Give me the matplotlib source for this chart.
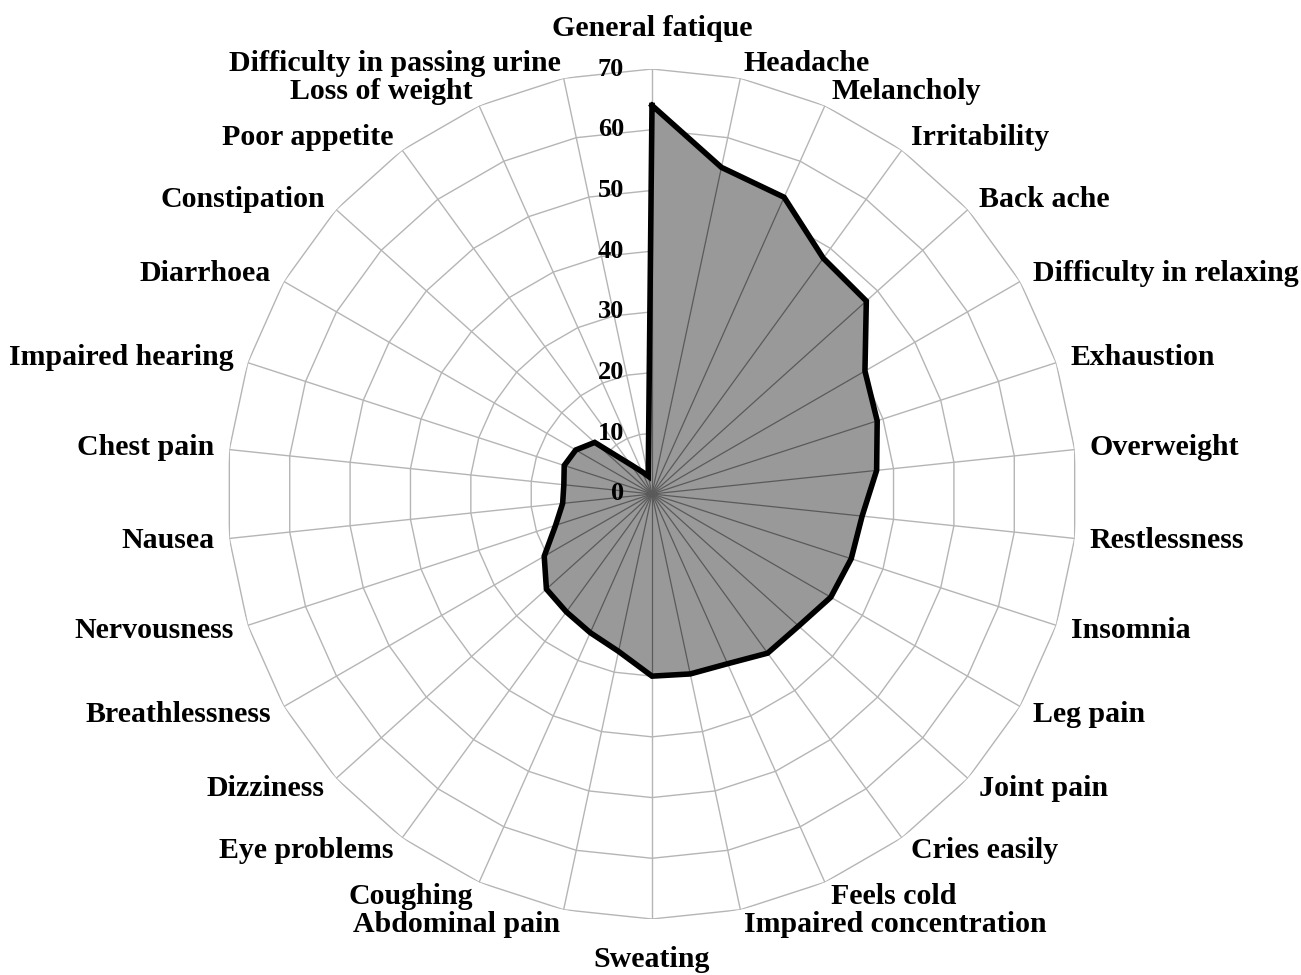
import numpy as np
import matplotlib
matplotlib.use("Agg")
import matplotlib.pyplot as plt
from matplotlib.transforms import offset_copy

symptoms = ["General fatique", "Headache", "Melancholy", "Irritability", "Back ache",
            "Difficulty in relaxing", "Exhaustion", "Overweight", "Restlessness", "Insomnia",
            "Leg pain", "Joint pain", "Cries easily", "Feels cold", "Impaired concentration",
            "Sweating", "Abdominal pain", "Coughing", "Eye problems", "Dizziness",
            "Breathlessness", "Nervousness", "Nausea", "Chest pain", "Impaired hearing",
            "Diarrhoea", "Constipation", "Poor appetite", "Loss of weight",
            "Difficulty in passing urine"]
values = [64, 55, 53.5, 48, 47.5,
          40.5, 39, 37.2, 34.8, 34.5,
          34, 32.5, 32.4, 30.6, 30.3,
          30, 26.5, 25, 24, 23.4,
          20.5, 16.7, 14.8, 14.6, 15.2,
          14.5, 12.7, 6, 4, 3]
levels = [0, 10, 20, 30, 40, 50, 60, 70]

plt.rcParams['font.family'] = ['Liberation Serif', 'DejaVu Serif']
plt.rcParams['font.weight'] = 'bold'

n = len(symptoms)
angles = np.linspace(0, 2 * np.pi, n, endpoint=False)
ang_c = np.append(angles, angles[0])
val_c = np.append(values, values[0])

fig = plt.figure(figsize=(13.01, 9.75), dpi=100)
ax = fig.add_axes([227 / 1301, 56 / 975, 850 / 1301, 850 / 975], projection='polar')
ax.set_theta_zero_location('N')
ax.set_theta_direction(-1)
ax.set_ylim(0, 70)
ax.set_axis_off()

# grille polygonale + rayons
for lv in levels[1:]:
    ax.plot(ang_c, [lv] * (n + 1), color='#b5b5b5', lw=1.0, zorder=1)
for a in angles:
    ax.plot([a, a], [0, 70], color='#b5b5b5', lw=1.0, zorder=1)

ax.fill(ang_c, val_c, color='#999999', zorder=2)
for a, v in zip(angles, values):
    ax.plot([a, a], [0, v], color='#5a5a5a', lw=0.9, zorder=3)
ax.plot(ang_c, val_c, color='black', lw=4, zorder=4, solid_joinstyle='miter')

# graduations
tr = offset_copy(ax.transData, fig=fig, x=-28, y=0, units='dots')
for lv in levels:
    ax.text(0, lv, str(lv), transform=tr, ha='right', va='center', fontsize=19,
            fontweight='bold', zorder=5)

# libellés
for a, s in zip(angles, symptoms):
    sa = np.sin(a)
    if abs(sa) < 0.05:
        ax.text(a, 76.6, s, ha='center', va='center', fontsize=21.5, fontweight='bold')
    elif sa > 0:
        ax.text(a, 72.5, s, ha='left', va='center', fontsize=21.5, fontweight='bold')
    else:
        ax.text(a, 72.5, s, ha='right', va='center', fontsize=21.5, fontweight='bold')

fig.savefig("out.png", dpi=100)
